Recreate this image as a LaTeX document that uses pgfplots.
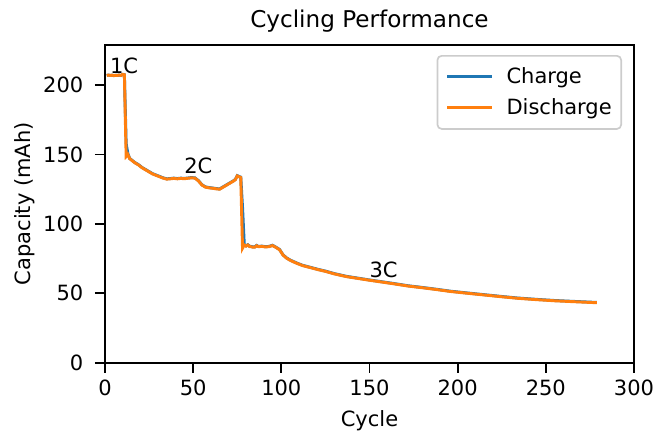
\documentclass[border=0pt]{standalone}
\usepackage{fontspec}
\setmainfont{DejaVu Sans}
\usepackage{pgfplots}
\pgfplotsset{compat=1.18}

\definecolor{mplblue}{HTML}{1F77B4}
\definecolor{mplorange}{HTML}{FF7F0E}

\begin{document}
\begin{tikzpicture}
\begin{axis}[
    scale only axis,
    width=251.9pt, height=151.3pt,
    xmin=0, xmax=300, ymin=0, ymax=229,
    xtick={0,50,...,300}, ytick={0,50,...,200},
    xtick pos=bottom, ytick pos=left,
    tick align=outside, tick style={black, line width=0.9pt},
    major tick length=4.8pt,
    axis line style={line width=0.9pt},
    /pgf/number format/assume math mode=true,
    font=\fontsize{10}{12}\selectfont,
    ticklabel style={font=\fontsize{10}{12}\selectfont},
    yticklabel style={xshift=-2pt},
    title={Cycling Performance},
    title style={font=\fontsize{11}{13}\selectfont, at={(axis description cs:0.5,1.0535)}, anchor=base, yshift=-6pt},
    xlabel={Cycle},
    xlabel style={font=\fontsize{10}{12}\selectfont, at={(axis description cs:0.5,-0.2022)}, anchor=base},
    ylabel={Capacity (mAh)},
    ylabel style={font=\fontsize{10}{12}\selectfont, at={(axis description cs:-0.1417,0.5)}, anchor=base, rotate=0},
    legend style={at={(axis description cs:0.9774,0.9683)}, anchor=north east,
        draw=black!20, rounded corners=2pt, line width=0.8pt,
        inner xsep=4pt, inner ysep=5pt,
        nodes={inner sep=0.5pt}, row sep=4.6pt, column sep=5.6pt,
        font=\fontsize{10}{12}\selectfont},
    legend cell align=left,
    legend image code/.code={\draw[#1] (0pt,0pt) -- (21.4pt,0pt);},
]
\addplot[mplblue, line width=1.4pt] coordinates {
(1,207) (2,207.3) (3,207) (4,207.2) (5,206.9) (6,207.1) (7,207) (8,207.3) (9,207)
(10,207.8) (11,207.5) (12,158) (13,150.5) (14,147.2) (15,146.2) (17,144.2) (19,142.7)
(21,140.7) (23,139.2) (25,137.7) (27,136.2) (29,135.2) (31,134.2) (33,133.2) (35,132.5)
(37,132.7) (39,133) (41,132.7) (43,133) (45,132.8) (47,133.1) (49,133.4) (51,133.2)
(53,131.2) (55,128.2) (57,126.7) (59,126.2) (61,125.9) (63,125.5) (65,125.2) (67,126.7)
(69,128.2) (71,129.7) (73,131.2) (74,132.2) (75,134.8) (76,134.2) (77,133.7) (78,112)
(79,85) (80,84.2) (81,85) (82,83.9) (83,83.7) (84,83.4) (85,83.5) (86,84.5) (87,83.8)
(89,84) (91,83.6) (93,83.8) (95,84.6) (97,83.2) (99,81.6) (101,77.7) (103,75.5)
(105,74) (107,72.8) (109,71.7) (112,70.2) (115,69.2) (118,68.2) (121,67.2) (125,66)
(130,64.2) (137,62.2) (145,60.6) (150,59.6) (156,58.5) (164,57) (172,55.4) (180,54.2)
(188,52.9) (196,51.5) (205,50.3) (215,49) (225,47.7) (234,46.6) (245,45.6) (255,44.8)
(265,44.2) (272,43.8) (279,43.4)
};
\addlegendentry{Charge}
\addplot[mplorange, line width=1.4pt] coordinates {
(1,207) (2,207.3) (3,207) (4,207.2) (5,206.9) (6,207.1) (7,207) (8,207.3) (9,207)
(10,207.8) (11,207.5) (12,148.6) (13,150) (14,147) (15,146) (17,144) (19,142.5)
(21,140.5) (23,139) (25,137.5) (27,136) (29,135) (31,134) (33,133) (35,132.3)
(37,132.5) (39,132.8) (41,132.5) (43,132.8) (45,132.6) (47,132.9) (49,133.2) (51,133)
(53,131) (55,128) (57,126.5) (59,126) (61,125.7) (63,125.3) (65,125) (67,126.5)
(69,128) (71,129.5) (73,131) (74,132) (75,134.6) (76,134) (77,133.5) (78,82.5)
(79,84.8) (80,84) (81,84.8) (82,83.7) (83,83.5) (84,83.2) (85,83.3) (86,84.3) (87,83.6)
(89,83.8) (91,83.4) (93,83.6) (95,84.4) (97,83) (99,81.4) (101,77.5) (103,75.3)
(105,73.8) (107,72.6) (109,71.5) (112,70) (115,69) (118,68) (121,67) (125,65.8)
(130,64) (137,62) (145,60.4) (150,59.4) (156,58.3) (164,56.8) (172,55.2) (180,54)
(188,52.7) (196,51.3) (205,50.1) (215,48.8) (225,47.5) (234,46.4) (245,45.4) (255,44.6)
(265,44) (272,43.6) (279,43.2)
};
\addlegendentry{Discharge}
\node[anchor=base, font=\fontsize{10}{12}\selectfont] at (axis cs:10.8,208.7) {1C};
\node[anchor=base, font=\fontsize{10}{12}\selectfont] at (axis cs:52.9,136.1) {2C};
\node[anchor=base, font=\fontsize{10}{12}\selectfont] at (axis cs:158,61.3) {3C};
\end{axis}
\pgfresetboundingbox
\path[use as bounding box] ([xshift=-50pt,yshift=-34.9pt]current axis.south west)
    rectangle ([xshift=10.5pt,yshift=21.4pt]current axis.north east);
\end{tikzpicture}
\end{document}
